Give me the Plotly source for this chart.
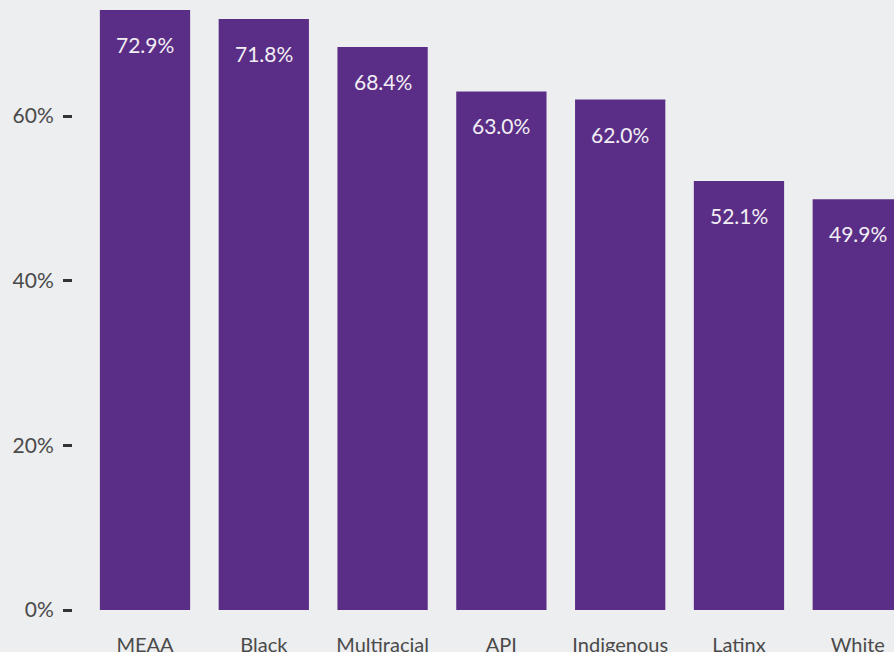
import plotly.graph_objects as go

groups = ["MEAA", "Black", "Multiracial", "API", "Indigenous", "Latinx", "White"]
shares = [72.9, 71.8, 68.4, 63.0, 62.0, 52.1, 49.9]
y_ticks = [0, 20, 40, 60]
y_tick_text = ["0%", "20%", "40%", "60%"]

BAR = "#5A2E86"
BG = "#EDEEF0"
FONT = "Lato, 'Open Sans', sans-serif"

fig = go.Figure()
fig.add_trace(go.Bar(
    x=groups,
    y=shares,
    marker_color=BAR,
    marker_line_width=0,
    hovertemplate="%{x}: %{y:.1f}%<extra></extra>",
))

# value labels sit a little below the top of each bar
for g, v in zip(groups, shares):
    fig.add_annotation(
        x=g, y=v, text=f"{v:.1f}%", showarrow=False,
        yanchor="top", yshift=-20,
        font=dict(family=FONT, size=21, color="#F2EEF4"),
    )

fig.update_layout(
    width=894, height=652,
    margin=dict(l=0, r=0, t=0, b=42),
    paper_bgcolor=BG, plot_bgcolor=BG,
    bargap=0.24,
    showlegend=False,
    font=dict(family=FONT, size=20, color="#4A4A4A"),
    xaxis=dict(
        domain=[85.6 / 894, 1],
        range=[-0.5, 6.305],
        automargin=False,
        showgrid=False, zeroline=False, showline=False,
        ticks="outside", ticklen=17, tickcolor="rgba(0,0,0,0)",
        tickfont=dict(size=20),
    ),
    yaxis=dict(
        range=[0, 74.1],
        anchor="free", position=72 / 894,
        automargin=False,
        tickvals=y_ticks, ticktext=y_tick_text,
        showgrid=False, zeroline=False, showline=False,
        ticks="outside", ticklen=9, tickwidth=3, tickcolor="#333333",
        ticklabelstandoff=5,
        tickfont=dict(size=21),
    ),
)

fig.write_html(
    "out.html",
    config={"displayModeBar": False},
    post_script="document.body.style.margin='0';",
)
